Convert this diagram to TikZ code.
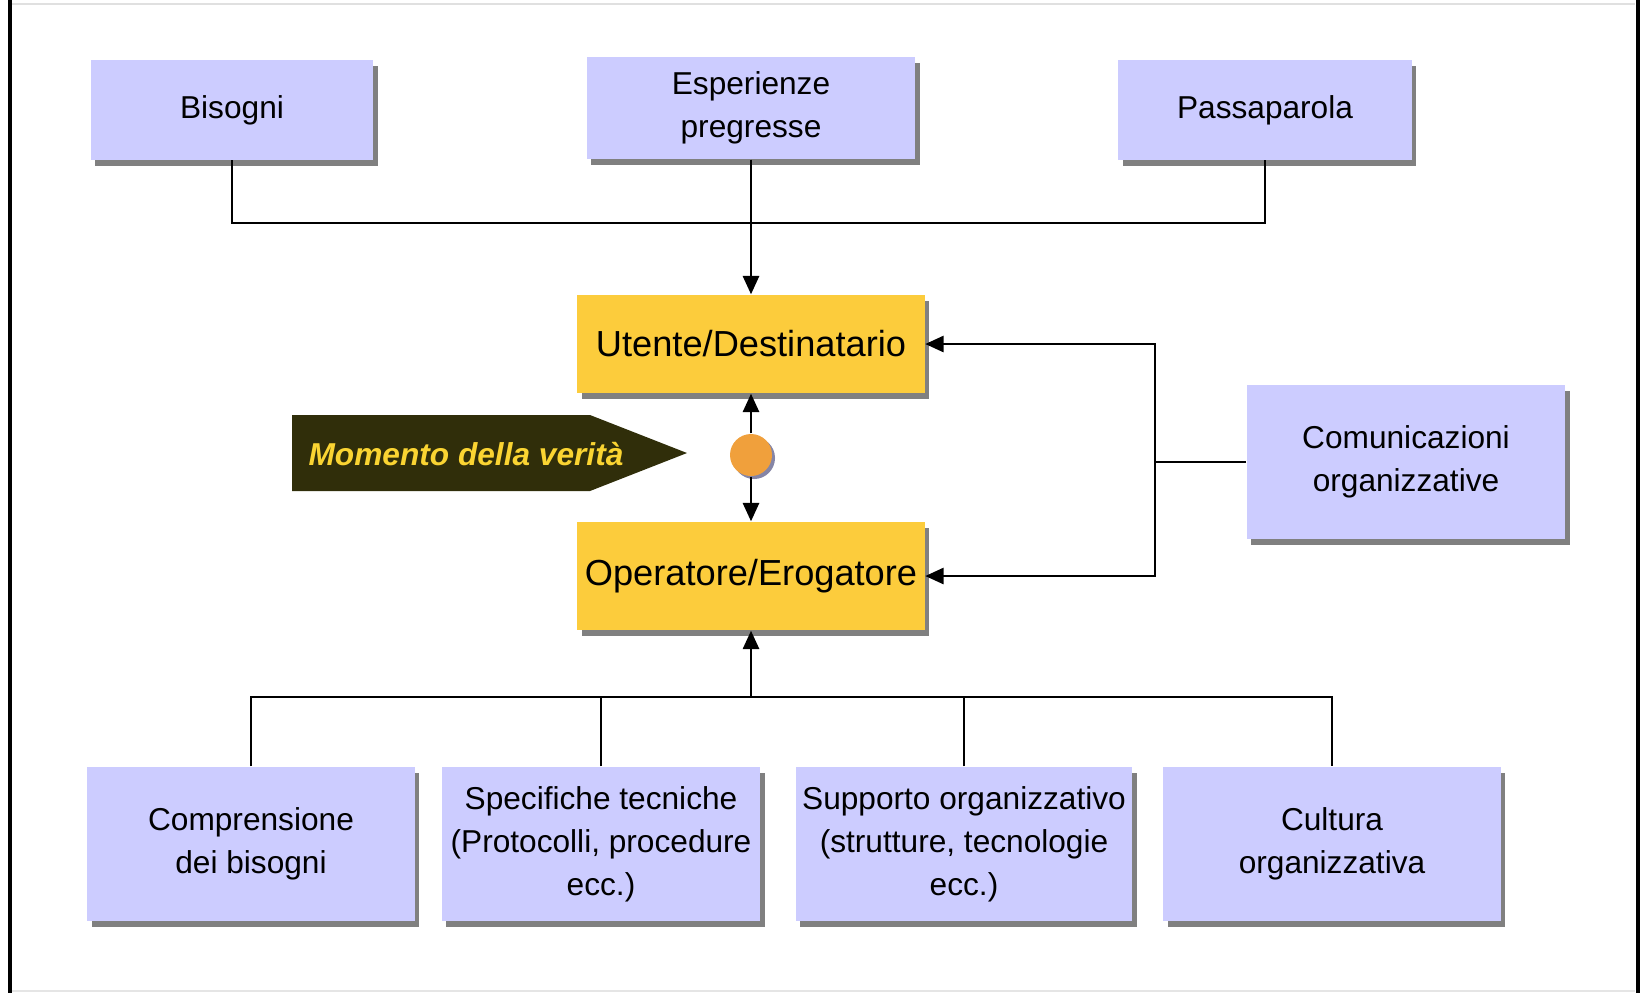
\documentclass[tikz,border=0pt]{standalone}
\usepackage{fontspec}
\setmainfont{Liberation Sans}
\usetikzlibrary{arrows.meta, shadows}

\definecolor{lavanda}{RGB}{204,204,255}
\definecolor{oro}{RGB}{252,204,60}
\definecolor{arancio}{RGB}{240,160,60}
\definecolor{oliva}{RGB}{48,46,10}
\definecolor{giallo}{RGB}{250,212,50}

\tikzset{
    fattore/.style={shape=rectangle, fill=lavanda, align=center, inner sep=0pt,
        font=\fontsize{9}{12.2}\selectfont,
        drop shadow={shadow xshift=0.45mm, shadow yshift=-0.6mm, fill=black!50, opacity=1}},
    attore/.style={fattore, fill=oro, font=\fontsize{10.3}{12.4}\selectfont},
    linea/.style={line width=0.6pt},
    freccia/.style={linea, -{Triangle[length=5.2pt, width=4.6pt]}}
}

\begin{document}
\begin{tikzpicture}[x=0.01cm, y=-0.01cm]
        \useasboundingbox (0,0) rectangle (1640,993);
        \draw[line width=1.15pt] (10,0) -- (10,993);
        \draw[line width=1.15pt] (1638,0) -- (1638,993);
        \draw[black!12, line width=0.6pt] (12,4) -- (1635,4);
        \draw[black!10, line width=0.6pt] (12,991) -- (1635,991);

        \node[fattore, minimum width=2.82cm, minimum height=0.99cm] (bis) at (232,110) {Bisogni};
        \node[fattore, minimum width=3.28cm, minimum height=1.02cm] (esp) at (751,108) {Esperienze\\pregresse};
        \node[fattore, minimum width=2.93cm, minimum height=0.99cm] (pas) at (1265,110) {Passaparola};

        \node[attore, minimum width=3.47cm, minimum height=0.98cm] (ute) at (751,344) {Utente/Destinatario};
        \node[attore, minimum width=3.47cm, minimum height=1.08cm] (ope) at (751,576) {Operatore/Erogatore};
        \node[shape=circle, fill=arancio, minimum size=0.42cm, inner sep=0pt,
            drop shadow={shadow xshift=0.3mm, shadow yshift=-0.3mm, fill=black!35!lavanda, opacity=1}] (mdv) at (751,455) {};

        \fill[oliva] (292,415) -- (590,415) -- (687,453) -- (590,491) -- (292,491) -- cycle;
        \node[font=\fontsize{9}{11}\selectfont\bfseries\itshape, text=giallo] (mom) at (466,454) {Momento della verità};

        \node[fattore, minimum width=3.18cm, minimum height=1.53cm] (com) at (1406,462) {Comunicazioni\\organizzative};

        \node[fattore, minimum width=3.27cm, minimum height=1.54cm] (comp) at (251,844) {Comprensione\\dei bisogni};
        \node[fattore, minimum width=3.18cm, minimum height=1.54cm] (spec) at (601,844) {Specifiche tecniche\\(Protocolli, procedure\\ecc.)};
        \node[fattore, minimum width=3.36cm, minimum height=1.54cm] (sup) at (964,844) {Supporto organizzativo\\(strutture, tecnologie\\ecc.)};
        \node[fattore, minimum width=3.37cm, minimum height=1.54cm] (cult) at (1332,844) {Cultura\\organizzativa};

        \coordinate (alto) at (751,223);
        \coordinate (destra) at (1155,462);
        \coordinate (basso) at (751,697);

        \draw[linea] (bis.south) |- (alto) -| (pas.south);
        \draw[freccia] (esp.south) -- (ute.north);

        \draw[freccia] (mdv) -- (ute.south);
        \draw[freccia] (mdv) -- (ope.north);

        \draw[linea] (com.west) -- (destra);
        \draw[freccia] (destra) |- (ute.east);
        \draw[freccia] (destra) |- (ope.east);

        \draw[freccia] (basso) -- (ope.south);
        \draw[linea] (comp.north) |- (basso) -| (cult.north);
        \draw[linea] (spec.north) -- (spec.north |- basso);
        \draw[linea] (sup.north) -- (sup.north |- basso);
\end{tikzpicture}
\end{document}
